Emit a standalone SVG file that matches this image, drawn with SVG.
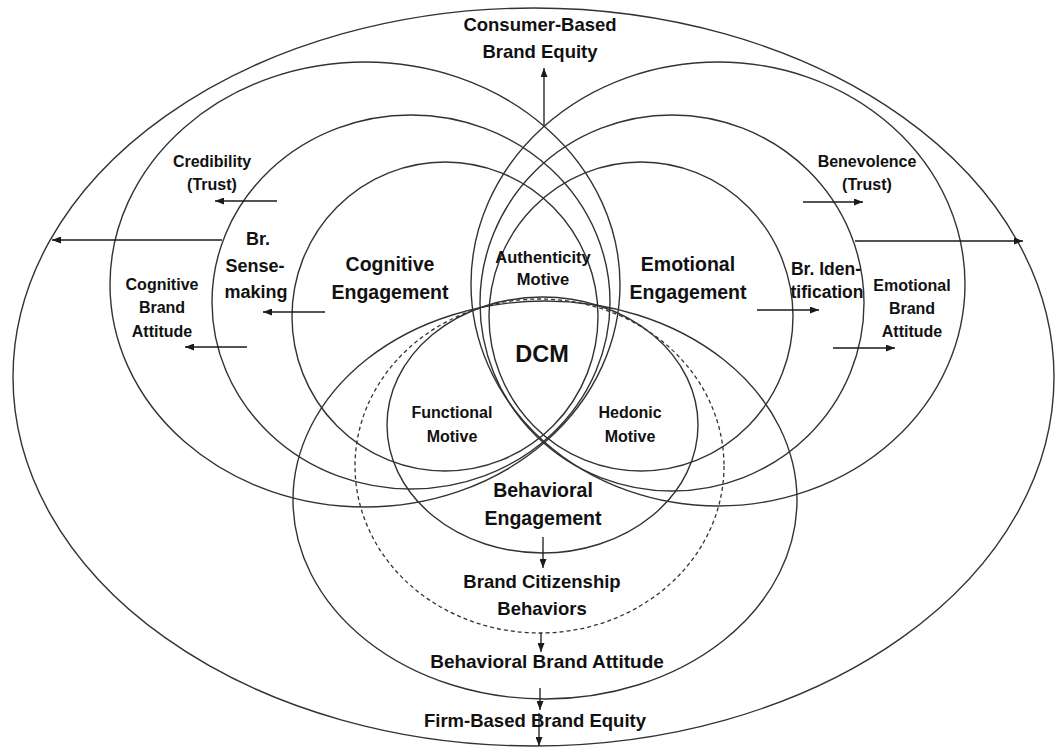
<svg xmlns="http://www.w3.org/2000/svg" width="1060" height="748" viewBox="0 0 1060 748">
  <defs>
    <marker id="arrow" viewBox="0 0 9 7" refX="9" refY="3.5" markerWidth="9" markerHeight="7" markerUnits="userSpaceOnUse" orient="auto">
      <path d="M0,0 L9,3.5 L0,7 z" fill="#1a1a1a"/>
    </marker>
    <style>
      .ring { fill: none; stroke: #333; stroke-width: 1.4; }
      .dash { fill: none; stroke: #333; stroke-width: 1.3; stroke-dasharray: 4 3; }
      .link { fill: none; stroke: #1a1a1a; stroke-width: 1.3; marker-end: url(#arrow); }
      text { font-family: "Liberation Sans", Arial, sans-serif; font-weight: bold; fill: #111; text-anchor: middle; }
    </style>
  </defs>
  <rect width="1060" height="748" fill="#fff"/>

  <!-- outer frame: consumer-based / firm-based equity -->
  <g id="equity">
    <ellipse class="ring" cx="533.5" cy="377" rx="520.5" ry="369"/>
    <text x="540" y="31" font-size="18.5">Consumer-Based</text>
    <text x="540" y="58" font-size="18.5">Brand Equity</text>
    <text x="535" y="727" font-size="18.5">Firm-Based Brand Equity</text>
  </g>

  <!-- cognitive family -->
  <g id="cognitive-attitude">
    <ellipse class="ring" cx="365" cy="284.5" rx="255" ry="222.5"/>
    <text x="212" y="167" font-size="16">Credibility</text>
    <text x="212" y="190" font-size="16">(Trust)</text>
    <text x="162" y="290" font-size="16">Cognitive</text>
    <text x="162" y="313" font-size="16">Brand</text>
    <text x="162" y="337" font-size="16">Attitude</text>
  </g>
  <g id="sensemaking">
    <ellipse class="ring" cx="411" cy="302" rx="199" ry="187"/>
    <text x="258" y="245" font-size="18">Br.</text>
    <text x="255" y="272" font-size="18">Sense-</text>
    <text x="256" y="298" font-size="18">making</text>
  </g>
  <g id="cognitive-engagement">
    <ellipse class="ring" cx="445" cy="316.5" rx="153" ry="154.5"/>
    <text x="390" y="271" font-size="19.5">Cognitive</text>
    <text x="390" y="299" font-size="19.5">Engagement</text>
  </g>

  <!-- emotional family -->
  <g id="emotional-attitude">
    <ellipse class="ring" cx="718" cy="284" rx="247" ry="222"/>
    <text x="867" y="167" font-size="16">Benevolence</text>
    <text x="867" y="190" font-size="16">(Trust)</text>
    <text x="912" y="291" font-size="16">Emotional</text>
    <text x="912" y="314" font-size="16">Brand</text>
    <text x="912" y="337" font-size="16">Attitude</text>
  </g>
  <g id="identification">
    <ellipse class="ring" cx="672" cy="303" rx="192" ry="188"/>
    <text x="826" y="275" font-size="17.5">Br. Iden-</text>
    <text x="827" y="298" font-size="17.5">tification</text>
  </g>
  <g id="emotional-engagement">
    <ellipse class="ring" cx="641" cy="316.5" rx="152" ry="154.5"/>
    <text x="688" y="271" font-size="19.5">Emotional</text>
    <text x="688" y="299" font-size="19.5">Engagement</text>
  </g>

  <!-- behavioral family -->
  <g id="behavioral-attitude">
    <ellipse class="ring" cx="545" cy="500" rx="252" ry="199"/>
    <text x="547" y="668" font-size="19">Behavioral Brand Attitude</text>
  </g>
  <g id="citizenship">
    <ellipse class="dash" cx="539.5" cy="466" rx="184.5" ry="167"/>
    <text x="542" y="588" font-size="18.5">Brand Citizenship</text>
    <text x="542" y="615" font-size="18.5">Behaviors</text>
  </g>
  <g id="behavioral-engagement">
    <ellipse class="ring" cx="542.5" cy="425" rx="155.5" ry="128"/>
    <text x="543" y="497" font-size="19.5">Behavioral</text>
    <text x="543" y="525" font-size="19.5">Engagement</text>
  </g>

  <!-- motives in the overlaps -->
  <g id="authenticity">
    <text x="543" y="263" font-size="16.5">Authenticity</text>
    <text x="543" y="285" font-size="16.5">Motive</text>
  </g>
  <g id="functional">
    <text x="452" y="418" font-size="16">Functional</text>
    <text x="452" y="442" font-size="16">Motive</text>
  </g>
  <g id="hedonic">
    <text x="630" y="418" font-size="16">Hedonic</text>
    <text x="630" y="442" font-size="16">Motive</text>
  </g>
  <g id="dcm">
    <text x="542" y="362" font-size="23.5">DCM</text>
  </g>

  <!-- connectors -->
  <g id="connectors">
    <line class="link" x1="544" y1="125" x2="544" y2="68"/>
    <line class="link" x1="277" y1="201" x2="215" y2="201"/>
    <line class="link" x1="222" y1="240" x2="52" y2="240"/>
    <line class="link" x1="325" y1="312" x2="263" y2="312"/>
    <line class="link" x1="247" y1="347" x2="185" y2="347"/>
    <line class="link" x1="803" y1="202" x2="863" y2="202"/>
    <line class="link" x1="855" y1="241" x2="1023" y2="241"/>
    <line class="link" x1="757" y1="310" x2="819" y2="310"/>
    <line class="link" x1="833" y1="348" x2="895" y2="348"/>
    <line class="link" x1="543" y1="537" x2="543" y2="568"/>
    <line class="link" x1="541" y1="633" x2="541" y2="652"/>
    <line class="link" x1="540" y1="688" x2="540" y2="710"/>
    <line class="link" x1="539" y1="713" x2="539" y2="746"/>
  </g>
</svg>
